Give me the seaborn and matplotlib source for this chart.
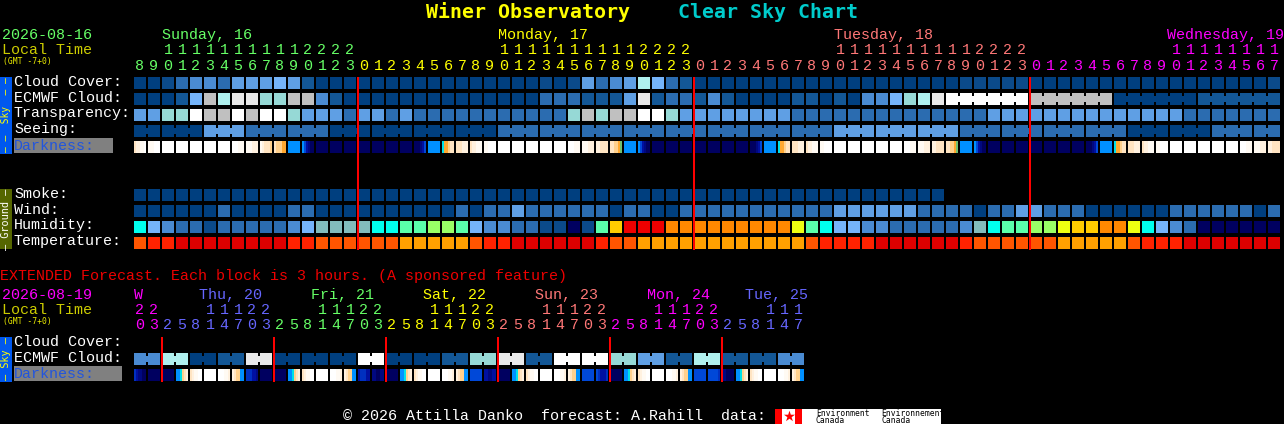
import numpy as np
import matplotlib
matplotlib.use("Agg")
import matplotlib.pyplot as plt
from matplotlib.colors import ListedColormap
from matplotlib.patches import Rectangle
import seaborn as sns

W, H = 1284, 424
MONO = "Liberation Mono"
TITLE_FONT = "DejaVu Sans Mono"

# ---------- data: forecast levels, one letter per block ----------
cloud_cover = ("aaAcddceee" "febaaaaaaa" "aaaaaaaaaA" "aAecdehfcb" "aaaaaaaaaa"
               "aaaaaaaaaA" "AAAAaaaaaa" "aaaaaaaaaa" "aA")
ecmwf_cloud = ("aaabfkhiig" "gkkdbaaaaa" "aaaaaaaaac" "ccbbbeibcc" "bdbaaaabba"
               "baddfghijj" "jjjjkkkkkk" "aaaaaabbbb" "bb")
ecmwf_groups = [1] * 58 + [6, 6, 6, 6]
transparency = ("eeggjkkjkj" "jgeeeceece" "cccccccccc" "cgkgkkjjge" "eeeeeeeccc"
                "cccccccccc" "ceeeeeeeee" "eeeeeccccc" "cc")
seeing_levels = list("aaeccaaaa") + list("cccccccc") + list("eee") + list("cccc") + list("aa") + list("cc")
seeing_groups = [2] + [3] * 26 + [2]
smoke = ("aaaaaaaaaa" "aaaaaaaaaa" "aaaaaaaaaa" "aaaaaaaaaa" "aaaaaaaaaa"
         "aaaaaaaa.." ".........." ".........." "..")
wind = ("aaaaaacaaa" "accaaaaaaa" "aaacaccecc" "ccccaccaac" "cccccccccc"
        "eeeeeecccc" "acceecccaa" "aaaacccccc" "ac")
humidity = ("CfdccAcccc" "cdfTTTTCCM" "MLLMfddccA" "AVAMOXXXRR" "RRRRRRRYMC"
            "ffddcccccd" "TCMMLLYOOR" "RYCfdcVVVV" "VV")
temperature = ("1223333333" "3221111114" "4444122333" "3332114444" "4444444412"
               "2223333332" "1111114444" "4122233333" "33")

# darkness: six readings across each block
darkness = [
    "qppnnW", "nnnWWW", "WWWWWW", "WWWWWW", "WWWWWW", "WWWWWW", "WWWWWW", "WWWnnn",
    "nnnppp", "npqqqr", "qrrroo", "ssssss", "sBDENN", "NNNNNN", "NNNNNN", "NNNNNN",
    "NNNNNN", "NNNNNN", "NNNNNN", "NNNNNN", "NNNEDB", "ssssss", "coorqq", "qqqppp",
    "qppnnn", "nnWWWW", "WWWWWW", "WWWWWW", "WWWWWW", "WWWWWW", "WWWWWW", "WWWnnn",
    "nnnppp", "ppqqqq", "qqrroG", "ssssss", "sBDENN", "NNNNNN", "NNNNNN", "NNNNNN",
    "NNNNNN", "NNNNNN", "NNNNNN", "NNNNNN", "NNNEDB", "ssssss", "coorqq", "qqqppp",
    "qppnnn", "nnWWWW", "WWWWWW", "WWWWWW", "WWWWWW", "WWWWWW", "WWWWWW", "WWWnnn",
    "nnnppp", "ppqqqq", "qqrroG", "ssssss", "sBDENN", "NNNNNN", "NNNNNN", "NNNNNN",
    "NNNNNN", "NNNNNN", "NNNNNN", "NNNNNN", "NNNEDB", "ssssss", "coorqq", "qqqppp",
    "qppnnn", "nnWWWW", "WWWWWW", "WWWWWW", "WWWWWW", "WWWWWW", "WWWWWW", "WWWnnn",
    "nnnppp", "ppqqqq",
]

ext_ecmwf = list("dhabiaaajaabgibjjgebhbbd")
ext_groups = [2] * 24
ext_darkness = [
    "CDEENN", "NNNNNN", "NNNNNN", "sscrqp", "qpnnWW", "WWWWWW", "WWWnnp", "pqrrss",
    "CCCDDE", "NNNNNN", "NNNNNN", "sscrqp", "qpnnWW", "WWWWWW", "WWWnnp", "pqrrss",
    "DCCCDD", "EENNEE", "NNNNNN", "sscrqp", "qpnnWW", "WWWWWW", "WWWnnp", "pqrrss",
    "BBBBBB", "DDEEDD", "NNNNNN", "sscrqp", "qpnnWW", "WWWWWW", "WWWnnp", "pqrrss",
    "BBBBBB", "BCDDDC", "NNNNNN", "sscrqp", "qpnnWW", "WWWWWW", "WWWnnp", "pqrrss",
    "BBBBBB", "BBBBBC", "EENNNN", "sscrqp", "qpnnWW", "WWWWWW", "WWWnnp", "pqrrss",
]

# ---------- axis labels ----------
main_hours = [8, 9, 10, 11, 12, 13, 14, 15, 16, 17, 18, 19, 20, 21, 22, 23,
              0, 1, 2, 3, 4, 5, 6, 7, 8, 9, 10, 11, 12, 13, 14, 15, 16, 17, 18, 19, 20, 21, 22, 23,
              0, 1, 2, 3, 4, 5, 6, 7, 8, 9, 10, 11, 12, 13, 14, 15, 16, 17, 18, 19, 20, 21, 22, 23,
              0, 1, 2, 3, 4, 5, 6, 7, 8, 9, 10, 11, 12, 13, 14, 15, 16, 17]
main_days = ["Sunday, 16", "Monday, 17", "Tuesday, 18", "Wednesday, 19"]
main_day_x = [162, 498, 834, 1167]
main_day_colors = ["#66ff66", "#ffff00", "#ff7777", "#ff00ff"]
main_day_starts = [0, 16, 40, 64, 82]

ext_hours = [20, 23,
             2, 5, 8, 11, 14, 17, 20, 23,
             2, 5, 8, 11, 14, 17, 20, 23,
             2, 5, 8, 11, 14, 17, 20, 23,
             2, 5, 8, 11, 14, 17, 20, 23,
             2, 5, 8, 11, 14, 17, 20, 23,
             2, 5, 8, 11, 14, 17]
ext_days = ["W", "Thu, 20", "Fri, 21", "Sat, 22", "Sun, 23", "Mon, 24", "Tue, 25"]
ext_day_x = [134, 199, 311, 423, 535, 647, 745]
ext_day_colors = ["#ff00ff", "#6666ff", "#66ff66", "#ffff00", "#ff7777", "#ff00ff", "#6666ff"]
ext_day_starts = [0, 2, 10, 18, 26, 34, 42, 48]

sky_labels = ["Cloud Cover:", "ECMWF Cloud:", "Transparency:", "Seeing:"]
ground_labels = ["Smoke:", "Wind:", "Humidity:", "Temperature:"]

# ---------- palettes ----------
levels = {
    "a": "#003f7f", "A": "#0b4a8a", "b": "#135796", "c": "#2b6cb0", "d": "#4a8bd2",
    "e": "#5f9fe4", "f": "#75b4fa", "g": "#96d9d6", "h": "#aff0ee", "i": "#e9e9e9",
    "j": "#ffffff", "k": "#c0c0c0", "T": "#82bcbc", "C": "#00ffee", "M": "#5affaa",
    "L": "#99ff66", "Y": "#eeff11", "O": "#ffcc00", "R": "#ff8800", "X": "#ee0000",
    "V": "#000060", "1": "#ff5500", "2": "#ff2200", "3": "#dd0000", "4": "#ffa000",
}
dark_levels = {
    "W": "#ffffff", "n": "#fffaf3", "p": "#fff1df", "q": "#ffe4c2", "r": "#ffd08c",
    "o": "#ffa830", "G": "#70c070", "c": "#00e0e8", "s": "#0090ff", "B": "#0048d8",
    "C": "#0030c0", "D": "#0010a0", "E": "#000880", "N": "#000060",
}

sns.set_theme(style="white")
plt.rcParams["font.family"] = [MONO, "DejaVu Sans"]
fig = plt.figure(figsize=(W / 100, H / 100), dpi=100, facecolor="black")


def heat_row(cells, palette, top, groups=None, sub=1):
    """One forecast row as a seaborn heatmap, cut into 12 px blocks on a 14 px pitch."""
    n = len(cells)
    keys = list(palette)
    cmap = ListedColormap([palette[k] for k in keys])
    if sub == 1:
        row = [keys.index(c) if c in palette else np.nan for c in cells]
        per_cell = 1
    else:
        row = [keys.index(c) for cell in cells for c in cell + cell[-1]]
        per_cell = 7
    ax = fig.add_axes([134 / W, 1 - (top + 12) / H, n * 14 / W, 12 / H])
    ax.set_facecolor("black")
    sns.heatmap(np.array([row], dtype=float), cmap=cmap, vmin=-0.5, vmax=len(keys) - 0.5,
                cbar=False, ax=ax, xticklabels=False, yticklabels=False)
    bridged = np.zeros(n, dtype=bool)
    if groups:
        ends = np.cumsum(groups) - 1
        bridged = ~np.isin(np.arange(n), ends)
    for i in range(n):
        left, width = (i + 12 / 14) * per_cell, (2 / 14) * per_cell
        if bridged[i]:
            ax.bar(left, 0.25, width, bottom=0, align="edge", color="black", linewidth=0, antialiased=False)
            ax.bar(left, 0.25, width, bottom=0.75, align="edge", color="black", linewidth=0, antialiased=False)
        else:
            ax.bar(left, 1, width, bottom=0, align="edge", color="black", linewidth=0, antialiased=False)
    ax.set_xlim(0, len(row))
    ax.set_ylim(1, 0)
    ax.set_axis_off()
    return ax


heat_row(cloud_cover, levels, 77)
heat_row(ecmwf_cloud, levels, 93, groups=ecmwf_groups)
heat_row(transparency, levels, 109)
heat_row("".join(np.repeat(seeing_levels, seeing_groups)), levels, 125, groups=seeing_groups)
heat_row(darkness, dark_levels, 141, sub=6)
heat_row(smoke, levels, 189)
heat_row(wind, levels, 205)
heat_row(humidity, levels, 221)
heat_row(temperature, levels, 237)
heat_row("".join(np.repeat(ext_ecmwf, ext_groups)), levels, 353, groups=ext_groups)
heat_row(ext_darkness, dark_levels, 369, sub=6)

# ---------- overlay in pixel units: labels, panels, day lines ----------
ov = fig.add_axes([0, 0, 1, 1], zorder=10)
ov.set_xlim(0, W)
ov.set_ylim(H, 0)
ov.patch.set_alpha(0)
ov.set_axis_off()


def txt(x, y, s, color="white", px=15.0, font=MONO, **kw):
    kw.setdefault("ha", "left")
    kw.setdefault("va", "baseline")
    ov.text(x, y, s, color=color, fontsize=px * 0.72, family=[font, "DejaVu Sans"], **kw)


def box(x0, y0, x1, y1, color):
    ov.add_patch(Rectangle((x0, y0), x1 - x0, y1 - y0, facecolor=color, edgecolor="none",
                           antialiased=False))


txt(426, 18, "Winer Observatory", "#ffff00", px=19.93, font=TITLE_FONT, fontweight="bold")
txt(678, 18, "Clear Sky Chart", "#00cccc", px=19.93, font=TITLE_FONT, fontweight="bold")

# header of the hourly part
txt(2, 39, "2026-08-16", "#66ff66")
txt(2, 54, "Local Time", "#cccc00")
txt(3, 64, "(GMT -7+0)", "#eeee00", px=8, font=TITLE_FONT)
for label, x, col in zip(main_days, main_day_x, main_day_colors):
    txt(x, 39, label, col)
for d, col in enumerate(main_day_colors):
    for i in range(main_day_starts[d], main_day_starts[d + 1]):
        h = main_hours[i]
        cx = 134 + 14 * i + 6
        if h >= 10:
            txt(cx, 54, str(h // 10), col, ha="center")
        txt(cx, 70, str(h % 10), col, ha="center")

# row labels
for k, label in enumerate(sky_labels):
    txt(14, 85.5 + 16 * k, label)
box(14, 138, 113, 153, "#808080")
txt(14, 149.5, "Darkness:", "#2255dd")
for k, label in enumerate(ground_labels):
    txt(14, 197.5 + 16 * k, label)

# side panels
box(0, 77, 12, 154, "#0058ee")
ov.text(6, 115, "\u2013 \u2013  Sky  \u2013 \u2013", color="#ffff00", fontsize=6.9, rotation=90,
        ha="center", va="center", family=[TITLE_FONT])
box(0, 189, 12, 249, "#556600")
ov.text(6, 219, "\u2013 Ground \u2013", color="white", fontsize=7.4, rotation=90,
        ha="center", va="center", family=[TITLE_FONT])
box(0, 337, 12, 382, "#0058ee")
ov.text(6, 359, "\u2013 Sky \u2013", color="#ffff00", fontsize=7.4, rotation=90,
        ha="center", va="center", family=[TITLE_FONT])

# extended part
txt(0, 280, "EXTENDED Forecast. Each block is 3 hours. (A sponsored feature)", "#ee0000")
txt(2, 299, "2026-08-19", "#ff00ff")
txt(2, 314, "Local Time", "#cccc00")
txt(3, 324, "(GMT -7+0)", "#eeee00", px=8, font=TITLE_FONT)
for label, x, col in zip(ext_days, ext_day_x, ext_day_colors):
    txt(x, 299, label, col)
for d, col in enumerate(ext_day_colors):
    for j in range(ext_day_starts[d], ext_day_starts[d + 1]):
        h = ext_hours[j]
        cx = 134 + 14 * j + 6
        if h >= 10:
            txt(cx, 314, str(h // 10), col, ha="center")
        txt(cx, 329, str(h % 10), col, ha="center")
txt(14, 345.5, "Cloud Cover:")
txt(14, 361.5, "ECMWF Cloud:")
box(14, 366, 122, 381, "#808080")
txt(14, 377.5, "Darkness:", "#2255dd")

# midnight lines
for idx in main_day_starts[1:4]:
    box(134 + 14 * idx - 1, 77, 134 + 14 * idx + 1, 250, "#ff0000")
for idx in ext_day_starts[1:7]:
    box(134 + 14 * idx - 1, 337, 134 + 14 * idx + 1, 382, "#ff0000")

# footer and logo
txt(343, 420, "\u00a9 2026 Attilla Danko  forecast: A.Rahill  data:")
box(775, 409, 941, 424, "white")
box(775, 409, 782, 424, "#ff0000")
box(795, 409, 802, 424, "#ff0000")
ov.scatter([788.5], [416], marker="*", s=70, color="#ff0000", linewidths=0)
for x, a, b in [(816, "Environment", "Canada"), (881, "Environnement", "Canada")]:
    txt(x, 416, a, "black", px=8.0, font=TITLE_FONT)
    txt(x, 423, b, "black", px=8.0, font=TITLE_FONT)

fig.savefig("out.png", dpi=100, facecolor="black")
